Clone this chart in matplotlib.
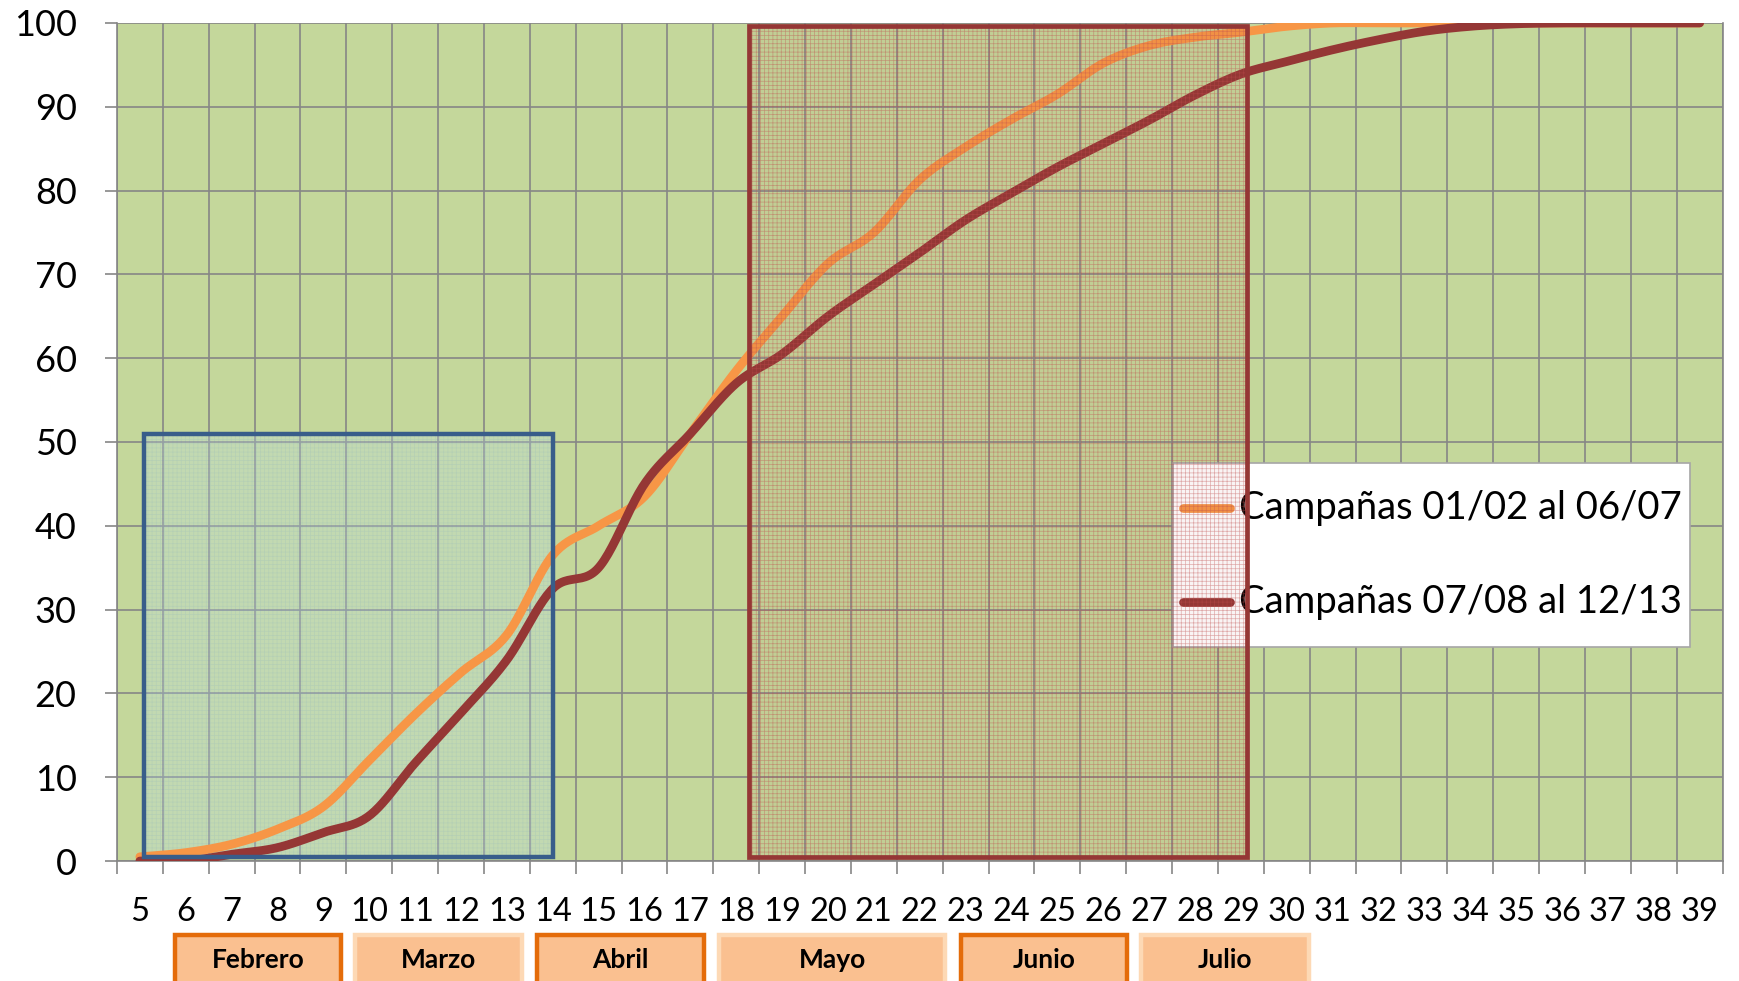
import numpy as np
import matplotlib
matplotlib.use("Agg")
import matplotlib.pyplot as plt
from matplotlib.patches import Rectangle

# semanas del año (eje x, categorias)
semanas = list(range(5, 40))

# % acumulado de cosecha, campañas 01/02 al 06/07
camp_01_07 = [0.5, 1.0, 2.0, 3.8, 6.5, 12.0, 17.5, 22.5, 27.0, 36.5,
              40.0, 43.5, 51.0, 58.5, 65.0, 71.3, 75.0, 81.3, 85.2, 88.5,
              91.5, 95.2, 97.3, 98.3, 98.9, 99.6, 100, 100, 100, 100,
              100, 100, 100, 100, 100]

# % acumulado de cosecha, campañas 07/08 al 12/13
camp_07_13 = [0.0, 0.0, 0.8, 1.6, 3.4, 5.4, 11.7, 17.7, 24.0, 32.5,
              35.0, 45.0, 51.0, 57.0, 60.5, 65.0, 68.8, 72.6, 76.5, 79.7,
              82.8, 85.6, 88.4, 91.4, 93.9, 95.4, 96.8, 98.0, 99.0, 99.6,
              99.9, 100, 100, 100, 100]

etiquetas = ['Campañas 01/02 al 06/07', 'Campañas 07/08 al 12/13']
meses = ['Febrero', 'Marzo', 'Abril', 'Mayo', 'Junio', 'Julio']

# ubicacion de los recuadros de meses (en semanas) y si llevan borde fuerte
cajas_meses = [(5.76, 9.38, True), (9.70, 13.32, False), (13.66, 17.29, True),
               (17.63, 22.56, False), (22.90, 26.52, True), (26.83, 30.49, False)]

naranja = '#f79646'
bordo = '#953735'
gris = '#868686'


def suavizar(x, y, n=24):
    # curva tipo catmull-rom, parecida a la "linea suavizada" de excel
    pts = np.column_stack([x, y]).astype(float)
    p = np.vstack([pts[0], pts, pts[-1]])
    out = []
    t = np.linspace(0, 1, n, endpoint=False)[:, None]
    for i in range(1, len(p) - 2):
        p0, p1, p2, p3 = p[i - 1], p[i], p[i + 1], p[i + 2]
        seg = 0.5 * (2 * p1 + (-p0 + p2) * t
                     + (2 * p0 - 5 * p1 + 4 * p2 - p3) * t ** 2
                     + (-p0 + 3 * p1 - 3 * p2 + p3) * t ** 3)
        out.append(seg)
    out.append(pts[-1:])
    s = np.vstack(out)
    return s[:, 0], s[:, 1]


plt.rcParams['font.family'] = ['Lato', 'DejaVu Sans']
plt.rcParams['hatch.linewidth'] = 0.5

fig = plt.figure(figsize=(17.4, 9.81), dpi=100)
ax = fig.add_axes([0.0672, 0.1223, 0.9228, 0.8543])
ax.set_facecolor('#c4d79b')

x1, y1 = suavizar(semanas, camp_01_07)
x2, y2 = suavizar(semanas, camp_07_13)
ax.plot(x1, y1, color=naranja, lw=6.3, solid_capstyle='round', zorder=3, label=etiquetas[0])
ax.plot(x2, y2, color=bordo, lw=6.3, solid_capstyle='round', zorder=3, label=etiquetas[1])

# leyenda armada a mano (queda debajo del recuadro rojo, como en el original)
ax.add_patch(Rectangle((0.6578, 0.2553), 0.9797 - 0.6578, 0.4749 - 0.2553,
                       transform=ax.transAxes, facecolor='white',
                       edgecolor='#a6a6a6', lw=1.2, zorder=3.5))
for col, lab, yy in zip([naranja, bordo], etiquetas, [0.4212, 0.3096]):
    ax.plot([0.6639, 0.6932], [yy, yy], transform=ax.transAxes, color=col,
            lw=6.3, solid_capstyle='round', zorder=3.6)
    ax.text(0.6991, yy, lab, transform=ax.transAxes, ha='left', va='center',
            fontsize=27.5, zorder=3.7)

# recuadro azul (semanas 5 a 14), el relleno queda debajo de las curvas
ax.add_patch(Rectangle((5.1, 0.5), 14.0 - 5.1, 51 - 0.5,
                       facecolor=(0.75, 0.88, 0.92, 0.28), edgecolor=(0.35, 0.55, 0.8, 0.12),
                       hatch='++++', lw=0, zorder=2.5))
ax.add_patch(Rectangle((5.1, 0.5), 14.0 - 5.1, 51 - 0.5, fill=False,
                       edgecolor='#385d8a', lw=3.2, zorder=4.2))

# recuadro rojo (semanas 18 a 29)
ax.add_patch(Rectangle((18.28, 0.5), 29.14 - 18.28, 99.6 - 0.5,
                       facecolor=(0.58, 0.22, 0.21, 0.05), edgecolor=(0.75, 0.3, 0.3, 0.45),
                       hatch='++++', lw=0, zorder=4))
ax.add_patch(Rectangle((18.28, 0.5), 29.14 - 18.28, 99.6 - 0.5, fill=False,
                       edgecolor=bordo, lw=3.4, zorder=4.2))

ax.set_xlim(4.5, 39.5)
ax.set_ylim(0, 100)
ax.set_xticks(semanas)
ax.set_xticklabels([str(s) for s in semanas])
ax.set_xticks(np.arange(4.5, 40, 1), minor=True)
ax.set_yticks(range(0, 101, 10))

ax.tick_params(axis='x', which='major', length=0, pad=26, labelsize=23.5)
ax.tick_params(axis='x', which='minor', length=9.5, width=1.2, color=gris)
ax.tick_params(axis='y', length=9, width=1.2, color=gris, pad=20, labelsize=26)

ax.grid(True, axis='y', which='major', color=gris, lw=1.2)
ax.grid(True, axis='x', which='minor', color=gris, lw=1.2)
ax.grid(False, axis='x', which='major')
for sp in ax.spines.values():
    sp.set_color(gris)
    sp.set_linewidth(1.2)
ax.spines['top'].set_visible(False)

# recuadros de meses debajo del eje
trans = ax.get_xaxis_transform()
for nombre, (a, b, fuerte) in zip(meses, cajas_meses):
    borde = '#e46c0a' if fuerte else '#fdd9b5'
    ax.add_patch(Rectangle((a, -0.17), b - a, 0.17 - 0.0884, transform=trans,
                           facecolor='#fac090', edgecolor=borde, lw=3.2,
                           clip_on=False, zorder=5))
    ax.text((a + b) / 2, -0.1176, nombre, transform=trans, ha='center',
            va='center', fontsize=19, fontweight='bold', color='black',
            zorder=6, clip_on=False)

fig.savefig('out.png', dpi=100, facecolor='white')
